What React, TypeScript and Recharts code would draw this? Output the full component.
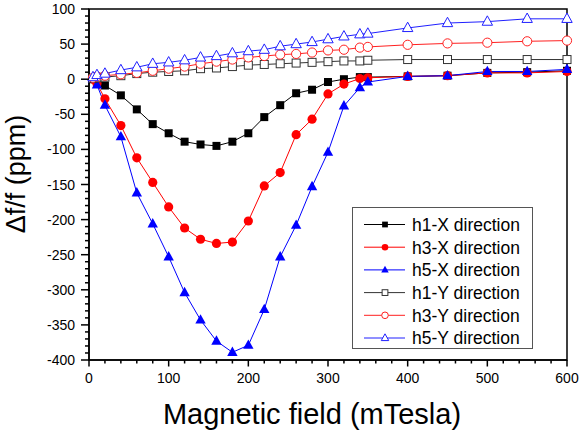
import React from 'react';
import { LineChart, Line, XAxis, YAxis, ReferenceArea, Legend } from 'recharts';

// Magnetic field (mTesla)
const fieldValues = [5, 10, 20, 40, 60, 80, 100, 120, 140, 160, 180, 200, 220, 240, 260, 280, 300, 320, 340, 350, 400, 450, 500, 550, 600];
// Δf/f (ppm)
const h1X = [0, -3, -9, -23, -43, -64, -77, -89, -93, -95, -89, -77, -54, -37, -20, -15, -4, 0, 3, 3, 4, 5, 9, 10, 12];
const h3X = [0, -6, -28, -66, -112, -147, -182, -212, -228, -234, -232, -202, -152, -133, -79, -57, -21, -7, 1, 2, 4, 5, 9, 9, 11];
const h5X = [0, -8, -37, -82, -162, -206, -253, -304, -343, -373, -389, -379, -328, -253, -208, -153, -104, -38, -12, -4, 4, 5, 11, 11, 14];
const h1Y = [1, 2, 3, 5, 8, 10, 11, 12, 15, 16, 18, 20, 21, 22, 23, 24, 25, 26, 26, 27, 28, 28, 28, 28, 28];
const h3Y = [2, 4, 5, 7, 9, 12, 15, 18, 22, 25, 28, 31, 33, 35, 36, 38, 41, 42, 45, 46, 49, 51, 52, 54, 55];
const h5Y = [3, 6, 8, 13, 17, 22, 24, 27, 31, 33, 37, 40, 42, 47, 50, 53, 57, 61, 64, 65, 73, 80, 82, 86, 86];

const xMajorTicks = [0, 100, 200, 300, 400, 500, 600];
const yMajorTicks = [-400, -350, -300, -250, -200, -150, -100, -50, 0, 50, 100];

const xAllTicks: number[] = [];
for (let v = 0; v <= 600; v += 20) xAllTicks.push(v);
const yAllTicks: number[] = [];
for (let v = -400; v <= 100; v += 10) yAllTicks.push(v);

const data = fieldValues.map((x, i) => ({
  x,
  h1X: h1X[i],
  h3X: h3X[i],
  h5X: h5X[i],
  h1Y: h1Y[i],
  h3Y: h3Y[i],
  h5Y: h5Y[i],
}));

type Shape = 'square' | 'circle' | 'triangle';
const series: { key: string; name: string; color: string; line: string; shape: Shape; filled: boolean }[] = [
  { key: 'h1X', name: 'h1-X direction', color: '#000000', line: '#000000', shape: 'square', filled: true },
  { key: 'h3X', name: 'h3-X direction', color: '#ff0000', line: '#ff0000', shape: 'circle', filled: true },
  { key: 'h5X', name: 'h5-X direction', color: '#0000ff', line: '#0000ff', shape: 'triangle', filled: true },
  { key: 'h1Y', name: 'h1-Y direction', color: '#333333', line: '#333333', shape: 'square', filled: false },
  { key: 'h3Y', name: 'h3-Y direction', color: '#ff2020', line: '#ff2020', shape: 'circle', filled: false },
  { key: 'h5Y', name: 'h5-Y direction', color: '#2020ff', line: '#2020ff', shape: 'triangle', filled: false },
];

const FONT = 'Arial, "Liberation Sans", Helvetica, sans-serif';

function Marker({ shape, cx, cy, color, filled, scale = 1 }: { shape: Shape; cx: number; cy: number; color: string; filled: boolean; scale?: number }) {
  if (cx == null || cy == null || isNaN(cx) || isNaN(cy)) return null;
  const fill = filled ? color : '#ffffff';
  const sw = filled ? 0 : 1;
  if (shape === 'square') {
    const s = 8 * scale;
    return <rect x={cx - s / 2} y={cy - s / 2} width={s} height={s} fill={fill} stroke={color} strokeWidth={sw} />;
  }
  if (shape === 'circle') {
    return <circle cx={cx} cy={cy} r={4.6 * scale} fill={fill} stroke={color} strokeWidth={sw} />;
  }
  const w = 5.2 * scale;
  const up = 5.8 * scale;
  const down = 3.6 * scale;
  return (
    <polygon
      points={`${cx},${cy - up} ${cx - w},${cy + down} ${cx + w},${cy + down}`}
      fill={fill}
      stroke={color}
      strokeWidth={sw}
      strokeLinejoin="miter"
    />
  );
}

const XTick = (props: any) => {
  const { x, y, payload } = props;
  const v = payload.value;
  const major = xMajorTicks.includes(v);
  return (
    <g>
      <line x1={x} x2={x} y1={y} y2={y + (major ? 6.5 : 3.5)} stroke="#000" strokeWidth={1.5} />
      {major && (
        <text x={x} y={y + 13} dy="0.71em" textAnchor="middle" fontSize={14} fontFamily={FONT} fill="#000">
          {v}
        </text>
      )}
    </g>
  );
};

const YTick = (props: any) => {
  const { x, y, payload } = props;
  const v = payload.value;
  const major = yMajorTicks.includes(v);
  return (
    <g>
      <line x1={x} x2={x - (major ? 8 : 4)} y1={y} y2={y} stroke="#000" strokeWidth={1.5} />
      {major && (
        <text x={x - 14} y={y} dy="0.36em" textAnchor="end" fontSize={14} fontFamily={FONT} fill="#000">
          {v}
        </text>
      )}
    </g>
  );
};

const LegendBox = () => (
  <svg width={182} height={143} style={{ display: 'block' }}>
    <rect x={0.5} y={0.5} width={180} height={141} fill="#ffffff" stroke="#555555" strokeWidth={1} />
    {series.map((s, i) => {
      const cy = 17.5 + i * 22.7;
      return (
        <g key={s.key}>
          <line x1={12} x2={53} y1={cy} y2={cy} stroke={s.line} strokeWidth={1} />
          <Marker shape={s.shape} cx={33} cy={cy} color={s.color} filled={s.filled} scale={0.72} />
          <text x={60} y={cy} dy="0.36em" fontSize={17.5} fontFamily={FONT} fill="#000">
            {s.name}
          </text>
        </g>
      );
    })}
  </svg>
);

export default function App() {
  return (
    <div style={{ position: 'absolute', left: 0, top: 0, width: 581, height: 437, background: '#fff', fontFamily: FONT }}>
      <LineChart width={581} height={437} data={data} margin={{ top: 9, right: 14, left: 0, bottom: 0 }}>
        <XAxis
          dataKey="x"
          type="number"
          domain={[0, 600]}
          ticks={xAllTicks}
          interval={0}
          tickSize={0}
          tickMargin={0}
          tickLine={false}
          tick={<XTick />}
          axisLine={{ stroke: '#000', strokeWidth: 1.5 }}
          height={77}
          label={{
            content: () => (
              <text x={312} y={424} textAnchor="middle" fontSize={29} fontFamily={FONT} fill="#000">
                Magnetic field (mTesla)
              </text>
            ),
          }}
        />
        <YAxis
          type="number"
          domain={[-400, 100]}
          ticks={yAllTicks}
          interval={0}
          tickSize={0}
          tickMargin={0}
          tickLine={false}
          tick={<YTick />}
          axisLine={{ stroke: '#000', strokeWidth: 1.5 }}
          width={89}
          label={{
            content: () => (
              <text
                x={25}
                y={174}
                transform="rotate(-90 25 174)"
                textAnchor="middle"
                fontSize={27}
                fontFamily={FONT}
                fill="#000"
              >
                Δf/f (ppm)
              </text>
            ),
          }}
        />
        <ReferenceArea x1={0} x2={600} y1={-400} y2={100} fill="none" fillOpacity={0} stroke="#000" strokeWidth={1.5} />
        {series.map((s) => (
          <Line
            key={s.key}
            dataKey={s.key}
            name={s.name}
            stroke={s.line}
            strokeWidth={1}
            isAnimationActive={false}
            dot={(p: any) => (
              <Marker key={`${s.key}-${p.index}`} shape={s.shape} cx={p.cx} cy={p.cy} color={s.color} filled={s.filled} />
            )}
            activeDot={false}
          />
        ))}
        <Legend
          layout="vertical"
          align="center"
          verticalAlign="middle"
          content={() => <LegendBox />}
          wrapperStyle={{ position: 'absolute', left: 352, top: 207, width: 182, height: 143 }}
        />
      </LineChart>
    </div>
  );
}
